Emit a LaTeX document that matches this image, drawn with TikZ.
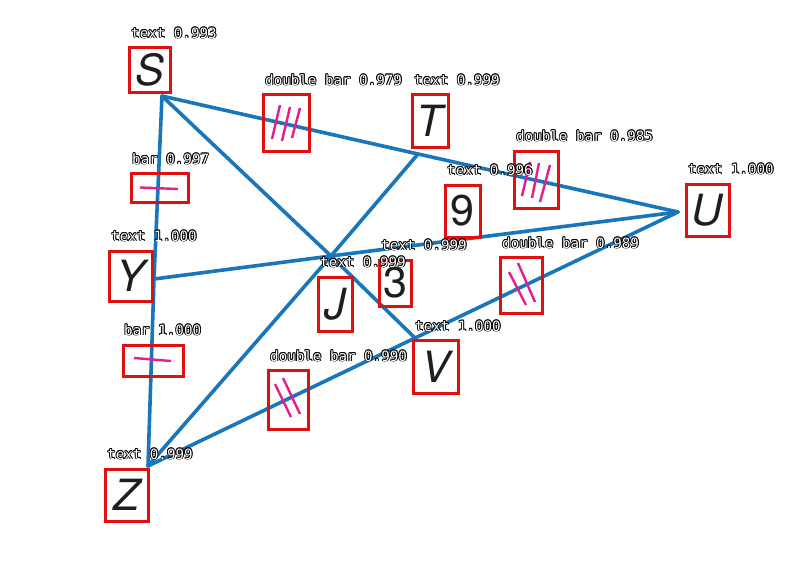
\documentclass[tikz,border=0pt]{standalone}
\usepackage{fontspec}
\setmainfont{TeX Gyre Heros}
\newfontfamily\monof{DejaVu Sans Mono}
\definecolor{lineblue}{RGB}{25,118,186}
\definecolor{tickmag}{RGB}{228,30,140}
\definecolor{boxred}{RGB}{222,16,16}
\definecolor{inkdark}{RGB}{30,30,30}
\newcommand{\halotext}[1]{\leavevmode\rlap{\kern-0.9pt#1}\rlap{\kern0.9pt#1}\rlap{\raisebox{0.9pt}{#1}}\rlap{\raisebox{-0.9pt}{#1}}\rlap{\kern-0.7pt\raisebox{0.7pt}{#1}}\rlap{\kern0.7pt\raisebox{0.7pt}{#1}}\rlap{\kern-0.7pt\raisebox{-0.7pt}{#1}}\rlap{\kern0.7pt\raisebox{-0.7pt}{#1}}{\color{white}#1}}
\tikzset{
  segline/.style={draw=lineblue, line width=3.6pt, line cap=round, line join=round},
  tickline/.style={draw=tickmag, line width=2.4pt},
  boxline/.style={draw=boxred, line width=3pt},
  lettbox/.style={boxline, inner sep=0pt, text=inkdark, font=\fontsize{43}{43}\selectfont\itshape},
  numbox/.style={boxline, inner sep=0pt, text=inkdark, font=\fontsize{43}{43}\selectfont},
  annot/.style={anchor=base west, inner sep=0pt, font=\monof\fontsize{14.2}{14.2}\selectfont}
}
\begin{document}
\begin{tikzpicture}[x=1pt,y=-1pt]
\useasboundingbox[fill=white] (0,0) rectangle (797,563);
% vertices
\coordinate (vS) at (162,96);
\coordinate (vT) at (418,154);
\coordinate (vU) at (678,212);
\coordinate (vY) at (154,279);
\coordinate (vJ) at (331,256);
\coordinate (vV) at (415,338);
\coordinate (vZ) at (148,466);
% segments
\draw[segline] (vS) -- (vT) -- (vU);
\draw[segline] (vS) -- (vY) -- (vZ);
\draw[segline] (vS) -- (vJ) -- (vV);
\draw[segline] (vT) -- (vJ) -- (vZ);
\draw[segline] (vY) -- (vJ) -- (vU);
\draw[segline] (vZ) -- (vV) -- (vU);
% tick marks
\draw[tickline] (140,187.5) -- (178,189);
\draw[tickline] (134,358) -- (171,361);
\draw[tickline] (280,105) -- (272,139);
\draw[tickline] (290,107) -- (282,141);
\draw[tickline] (300,108) -- (292,138);
\draw[tickline] (530,162) -- (522,196);
\draw[tickline] (539,163) -- (532,198);
\draw[tickline] (550,165) -- (540,202);
\draw[tickline] (509,272) -- (526,305);
\draw[tickline] (518,263) -- (535,302);
\draw[tickline] (275,384) -- (291,417);
\draw[tickline] (283,378) -- (300,414);
% tick boxes
\draw[boxline] (131,173) rectangle (188,202);
\draw[boxline] (123,345) rectangle (183,376);
\draw[boxline] (263,94) rectangle (309,151);
\draw[boxline] (514,151) rectangle (558,208);
\draw[boxline] (500,257) rectangle (542,313);
\draw[boxline] (268,370) rectangle (308,429);
% letter nodes
\node[lettbox, minimum width=41pt, minimum height=45pt] (S) at (149.5,69.5) {S};
\node[lettbox, minimum width=36pt, minimum height=53pt] (T) at (430,120.5) {T};
\node[numbox, minimum width=35pt, minimum height=52pt] (n9) at (462.5,211) {9};
\node[lettbox, minimum width=43pt, minimum height=52pt] (U) at (707.5,210) {U};
\node[lettbox, minimum width=43pt, minimum height=50pt] (Y) at (130.5,276) {Y};
\node[lettbox, minimum width=34pt, minimum height=54pt] (J) at (335,304) {J};
\node[numbox, minimum width=32pt, minimum height=46pt] (n3) at (395,283) {3};
\node[lettbox, minimum width=45pt, minimum height=53pt] (V) at (435.5,366.5) {V};
\node[lettbox, minimum width=43pt, minimum height=52pt] (Z) at (126.5,495) {Z};
% annotation labels
\node[annot] (aS) at (131,38) {\halotext{text 0.993}};
\node[annot] (aST) at (265,85) {\halotext{double bar 0.979}};
\node[annot] (aT) at (414,85) {\halotext{text 0.999}};
\node[annot] (aSY) at (132,164) {\halotext{bar 0.997}};
\node[annot] (aTU) at (516,141) {\halotext{double bar 0.985}};
\node[annot] (a9) at (447,175) {\halotext{text 0.996}};
\node[annot] (aU) at (688,174) {\halotext{text 1.000}};
\node[annot] (aY) at (111,241) {\halotext{text 1.000}};
\node[annot] (a3) at (381,250) {\halotext{text 0.999}};
\node[annot] (aVU) at (502,248) {\halotext{double bar 0.989}};
\node[annot] (aJ) at (320,267) {\halotext{text 0.999}};
\node[annot] (aYZ) at (124,335) {\halotext{bar 1.000}};
\node[annot] (aV) at (415,331) {\halotext{text 1.000}};
\node[annot] (aZV) at (270,361) {\halotext{double bar 0.990}};
\node[annot] (aZ) at (107,459) {\halotext{text 0.999}};
\end{tikzpicture}
\end{document}
